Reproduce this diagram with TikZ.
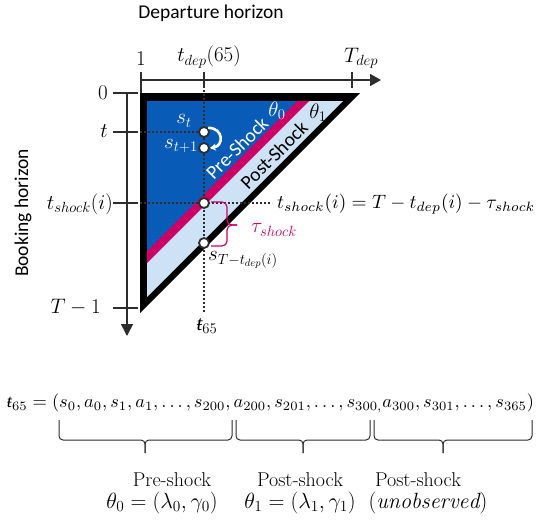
\RequirePackage{fix-cm}
\documentclass[tikz,border=0pt]{standalone}
\usepackage{amsmath}
\usepackage{graphicx}
\usepackage{fontspec}
\newfontfamily\carl{Carlito}
\newfontfamily\libser{Liberation Serif}
\usetikzlibrary{arrows.meta}
\definecolor{dblue}{RGB}{8,92,184}
\definecolor{lblue}{RGB}{206,226,245}
\definecolor{mag}{RGB}{204,0,102}
\definecolor{axc}{RGB}{45,45,45}
\begin{document}
\begin{tikzpicture}[x=1pt,y=-1pt,
 axis/.style={axc,line width=1.6pt},
 dots/.style={axc,line width=1.6pt,dash pattern=on 1.6pt off 2.4pt},
 pt/.style={circle,draw=axc,fill=white,line width=1.8pt,minimum size=10pt,inner sep=0pt},
 lab/.style={inner sep=0pt,font=\fontsize{20}{22}\selectfont},
 mlab/.style={inner sep=0pt,font=\fontsize{21}{23}\selectfont},
 blab/.style={inner sep=0pt,font=\fontsize{22}{24}\selectfont},
 sans/.style={inner sep=0pt,font=\carl\fontsize{19.5}{21}\selectfont},
 ubr/.style={axc,line width=1pt,rounded corners=4pt}]
\useasboundingbox (0,0) rectangle (537,519);

% titles
\node[sans] (dep) at (211,13) {Departure horizon};
\node[sans,rotate=90] (book) at (23,213) {Booking horizon};

% triangle
\fill[black] (140,93) -- (360,93) -- (140,313) -- cycle;
\fill[lblue] (147,101) -- (343,101) -- (147,297) -- cycle;
\fill[mag] (147,101) -- (309,101) -- (147,263) -- cycle;
\fill[dblue] (147,101) -- (297,101) -- (147,251) -- cycle;

% horizontal axis
\coordinate (hx0) at (141,80);
\coordinate (hx1) at (381,80);
\draw[axis,-{Triangle[length=11pt,width=12pt]}] (hx0) -- (hx1);
\coordinate (tk1a) at (141,72); \coordinate (tk1b) at (141,93);
\coordinate (tk2a) at (204,72); \coordinate (tk2b) at (204,88);
\coordinate (tk3a) at (352,72); \coordinate (tk3b) at (352,88);
\draw[axis] (tk1a) -- (tk1b);
\draw[axis] (tk2a) -- (tk2b);
\draw[axis] (tk3a) -- (tk3b);
\node[mlab] (l1) at (141,59) {1};
\node[mlab] (ltdep) at (209,57) {$t_{dep}(65)$};
\node[mlab,anchor=west] (lTdep) at (344,58) {$T_{dep}$};

% vertical axis
\coordinate (vy0) at (127,93);
\coordinate (vy1) at (127,336);
\draw[axis,-{Triangle[length=12pt,width=12pt]}] (vy0) -- (vy1);
\foreach \yy/\nm in {93/a,132/b,203/c,308/d}{
  \coordinate (vt\nm0) at (113,\yy); \coordinate (vt\nm1) at (138,\yy);
  \draw[axis] (vt\nm0) -- (vt\nm1);
}
\node[mlab,anchor=east] (l0) at (108,93) {0};
\node[mlab,anchor=east] (lt) at (108,131) {$t$};
\node[mlab,anchor=east] (lts) at (113,204) {$t_{shock}(i)$};
\node[mlab,anchor=east] (lT1) at (101,307) {$T-1$};

% dotted guides
\node[mlab] (t65) at (207,326) {$\mbox{\libser\itshape ŧ}_{65}$};
\coordinate (dtop) at (204,82);
\coordinate (dbot) at (204,313);
\draw[dots] (dtop) -- (dbot);
\coordinate (hs0) at (140,132);
\coordinate (hs1) at (204,132);
\draw[dots] (hs0) -- (hs1);
\coordinate (hc0) at (140,203);
\coordinate (hc1) at (272,203);
\draw[dots] (hc0) -- (hc1);

% points
\node[pt] (st) at (204,132) {};
\node[pt] (st1) at (204,148) {};
\node[pt] (sh) at (204,203) {};
\node[pt] (se) at (204,243) {};
\draw[white,line width=2.6pt,-{Stealth[length=6pt,width=7pt]}] (st.north east) .. controls (224,128) and (224,146) .. (st1.east);

\node[mlab,white] (lst) at (184,121) {$s_t$};
\node[mlab,white] (lst1) at (181,146) {$s_{t+1}$};
\node[sans,white,rotate=45] (pre) at (237,148) {Pre-Shock};
\node[mlab,white] (th0) at (277,111) {$\theta_0$};
\node[sans,black,rotate=45] (post) at (274,155) {Post-Shock};
\node[mlab] (th1) at (318,113) {$\theta_1$};

% tau brace
\coordinate (bt) at (211,202);
\coordinate (bb) at (211,246);
\coordinate (btip) at (237,225);
\draw[mag,line width=1.2pt,rounded corners=5pt] (bt) -- (227,202) -- (227,225) -- (btip);
\draw[mag,line width=1.2pt,rounded corners=5pt] (bb) -- (227,246) -- (227,225) -- (btip);
\node[mlab,mag,anchor=west] (tau) at (251,230) {$\tau_{shock}$};
\node[mlab,anchor=west] (lse) at (208,260) {$s_{T-t_{dep}(i)}$};

% shock equation
\node[inner sep=0pt,anchor=west] (eq) at (277,204) {\resizebox{258pt}{!}{$t_{shock}(i) = T - t_{dep}(i) - \tau_{shock}$}};

% trajectory
\node[inner sep=0pt] (traj) at (270.5,403) {\resizebox{527pt}{!}{$\mbox{\libser\itshape ŧ}_{65} = (s_0, a_0, s_1, a_1, \ldots, s_{200}, a_{200}, s_{201}, \ldots, s_{300,} a_{300}, s_{301}, \ldots, s_{365})$}};

% underbraces
\draw[ubr] (59,420) -- (59,440) -- (145,440) -- (145,453);
\draw[ubr] (232,420) -- (232,440) -- (145,440) -- (145,453);
\draw[ubr] (236,420) -- (236,440) -- (303,440) -- (303,453);
\draw[ubr] (370,420) -- (370,440) -- (303,440) -- (303,453);
\draw[ubr] (374,420) -- (374,440) -- (443,440) -- (443,453);
\draw[ubr] (532,420) -- (532,440) -- (443,440) -- (443,453);

\node[lab] (p1) at (172,480) {Pre-shock};
\node[blab] (q1) at (162,503) {$\theta_0 = (\lambda_0, \gamma_0)$};
\node[lab] (p2) at (300,480) {Post-shock};
\node[blab] (q2) at (300,503) {$\theta_1 = (\lambda_1, \gamma_1)$};
\node[lab] (p3) at (418,480) {Post-shock};
\node[blab] (q3) at (428,503) {$(\mathit{unobserved})$};
\end{tikzpicture}
\end{document}
